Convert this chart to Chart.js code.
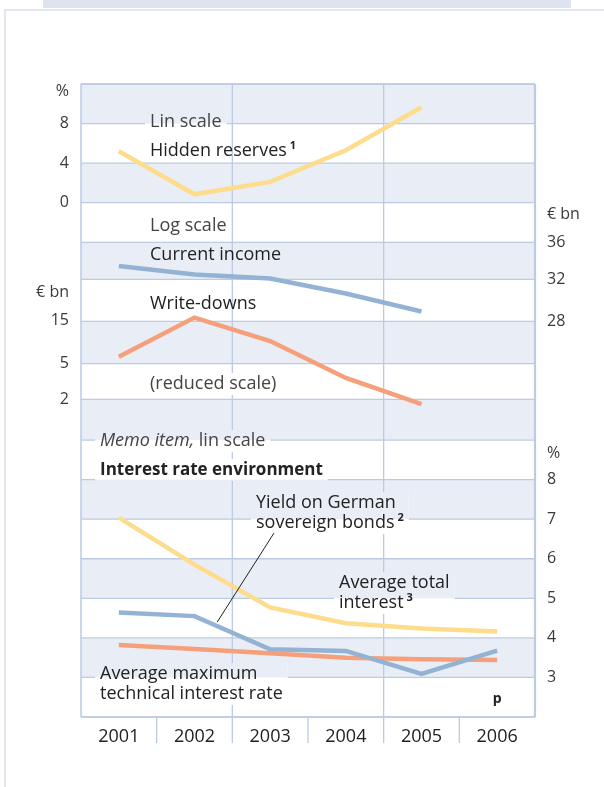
<!DOCTYPE html>
<html>
<head>
<meta charset="utf-8">
<script src="https://cdn.jsdelivr.net/npm/chart.js@4"></script>
<style>
  html, body { margin: 0; padding: 0; background: #fff; }
  #wrap { position: relative; width: 604px; height: 787px; overflow: hidden; }
  .topband { position: absolute; left: 43px; top: 0; width: 528px; height: 8px; background: #dde4ef; }
  .frame { position: absolute; left: 4px; top: 9px; width: 640px; height: 800px; border-left: 2px solid #e1e7f0; border-top: 2px solid #e1e7f0; }
  canvas { position: absolute; left: 0; top: 0; }
</style>
</head>
<body>
<div id="wrap">
  <div class="topband"></div>
  <div class="frame"></div>
  <canvas id="chart" width="604" height="787"></canvas>
</div>
<script>
const years = ["2001", "2002", "2003", "2004", "2005", "2006"];

// upper panel, % (lin scale)
const hiddenReserves = [5.2, 0.85, 2.1, 5.3, 9.65, null];
// middle panel, EUR bn (log scale)
const currentIncome = [33.4, 32.5, 32.1, 30.6, 28.9, null];
const writeDowns = [5.95, 16.2, 8.9, 3.46, 1.78, null];
// lower panel, % (memo item)
const avgTotalInterest = [7.04, 5.85, 4.77, 4.37, 4.24, 4.16];
const bundYield = [4.64, 4.55, 3.71, 3.67, 3.09, 3.68];
const maxTechRate = [3.82, 3.72, 3.61, 3.5, 3.46, 3.44];

const reserveTicks = [8, 4, 0];
const incomeTicks = [36, 32, 28];
const writeDownTicks = [15, 5, 2];
const rateTicks = [8, 7, 6, 5, 4, 3];

const YELLOW = "#fddc8c";
const BLUE = "#93b2d4";
const ORANGE = "#f5a07a";
const BAND = "#e9eef6";
const GRID = "#bccbe2";
const INK = "#222";
const FONT = '"Open Sans", "Noto Sans", sans-serif';

const REG = "18px " + FONT;
const MED = "500 18px " + FONT;
const BOLD = "bold 17px " + FONT;
const ITAL = "italic 18px " + FONT;
const SUP = "bold 11px " + FONT;

// annotation texts: each line is a list of [text, font] runs
const notes = [
  { x: 150, y: 122, lines: [[["Lin scale", REG]]], color: "#444", knock: true },
  { x: 150, y: 151, lines: [[["Hidden reserves", MED], ["1", SUP]]] },
  { x: 150, y: 226, lines: [[["Log scale", REG]]], color: "#444" },
  { x: 150, y: 255, lines: [[["Current income", MED]]] },
  { x: 150, y: 304, lines: [[["Write-downs", MED]]] },
  { x: 150, y: 384, lines: [[["(reduced scale)", REG]]], color: "#444", knock: true },
  { x: 100, y: 441, lines: [[["Memo item,", ITAL], [" lin scale", REG]]], color: "#444", knock: true },
  { x: 100, y: 470, lines: [[["Interest rate environment", BOLD]]], knock: true },
  { x: 256, y: 503, lines: [[["Yield on German", REG]], [["sovereign bonds", REG], ["2", SUP]]], knock: true },
  { x: 339, y: 583, lines: [[["Average total", REG]], [["interest", REG], ["3", SUP]]], knock: true },
  { x: 100, y: 674, lines: [[["Average maximum", REG]], [["technical interest rate", REG]]], knock: true },
];
const LINE_H = 20;

function lineWidth(ctx, runs) {
  let w = 0;
  runs.forEach(([t, f]) => { ctx.font = f; w += ctx.measureText(t).width + (f === SUP ? 3 : 0); });
  return w;
}

function noteBox(ctx, n) {
  const w = Math.max(...n.lines.map((l) => lineWidth(ctx, l)));
  return { x: n.x - 5, y: n.y - 11, w: w + 10, h: (n.lines.length - 1) * LINE_H + 22 };
}

function drawNote(ctx, n) {
  ctx.textBaseline = "middle";
  ctx.textAlign = "left";
  n.lines.forEach((runs, i) => {
    let x = n.x;
    const y = n.y + i * LINE_H;
    runs.forEach(([t, f]) => {
      ctx.font = f;
      ctx.fillStyle = n.color || INK;
      if (f === SUP) {
        x += 3;
        ctx.fillText(t, x, y - 5);
      } else {
        ctx.fillText(t, x, y);
      }
      x += ctx.measureText(t).width;
    });
  });
}

function gridRows(chart) {
  const s = chart.scales;
  const a = chart.chartArea;
  const rows = [a.top];
  reserveTicks.forEach((v) => rows.push(s.yHR.getPixelForValue(v)));
  incomeTicks.forEach((v) => rows.push(s.yCI.getPixelForValue(v)));
  writeDownTicks.slice(1).forEach((v) => rows.push(s.yWD.getPixelForValue(v)));
  rows.push(s.yIR.getPixelForValue(9));
  rateTicks.forEach((v) => rows.push(s.yIR.getPixelForValue(v)));
  rows.push(a.bottom);
  return rows;
}

function boundary(chart, i) {
  const x = chart.scales.x;
  return (x.getPixelForValue(i) + x.getPixelForValue(i + 1)) / 2;
}

const decor = {
  id: "decor",
  beforeDatasetsDraw(chart) {
    const { ctx, chartArea: a } = chart;
    const rows = gridRows(chart);
    const paintBands = () => {
      ctx.fillStyle = "#fff";
      ctx.fillRect(a.left, a.top, a.width, a.height);
      ctx.fillStyle = BAND;
      for (let i = 0; i + 1 < rows.length; i += 2) {
        ctx.fillRect(a.left, rows[i], a.width, rows[i + 1] - rows[i]);
      }
    };
    ctx.save();
    paintBands();
    ctx.strokeStyle = GRID;
    ctx.lineWidth = 1.3;
    rows.forEach((y) => {
      ctx.beginPath();
      ctx.moveTo(a.left, y);
      ctx.lineTo(a.right, y);
      ctx.stroke();
    });
    [1, 3].forEach((i) => {
      const x = boundary(chart, i);
      ctx.beginPath();
      ctx.moveTo(x, a.top);
      ctx.lineTo(x, a.bottom);
      ctx.stroke();
    });
    // gaps in the grid behind annotations
    notes.filter((n) => n.knock).forEach((n) => {
      const r = noteBox(ctx, n);
      ctx.save();
      ctx.beginPath();
      ctx.rect(r.x, r.y, r.w, r.h);
      ctx.clip();
      paintBands();
      ctx.restore();
    });
    // frame of the plot
    ctx.strokeStyle = GRID;
    ctx.lineWidth = 1.5;
    ctx.beginPath();
    ctx.moveTo(a.left, a.top);
    ctx.lineTo(a.left, a.bottom);
    ctx.moveTo(a.left, a.top);
    ctx.lineTo(a.right, a.top);
    ctx.moveTo(a.left, a.bottom);
    ctx.lineTo(a.right, a.bottom);
    ctx.stroke();
    ctx.lineWidth = 2.2;
    ctx.beginPath();
    ctx.moveTo(a.right, a.top);
    ctx.lineTo(a.right, a.bottom);
    ctx.stroke();
    ctx.restore();
  },
  afterDatasetsDraw(chart) {
    const { ctx, chartArea: a, scales: s } = chart;
    ctx.save();
    notes.forEach((n) => drawNote(ctx, n));

    // leader line from the bond yield label to its line
    const t = 0.3;
    const lx = s.x.getPixelForValue(1) + t * (s.x.getPixelForValue(2) - s.x.getPixelForValue(1));
    const ly = s.yIR.getPixelForValue(bundYield[1] + t * (bundYield[2] - bundYield[1]));
    ctx.strokeStyle = "#222";
    ctx.lineWidth = 1;
    ctx.beginPath();
    ctx.moveTo(274, 533);
    ctx.lineTo(lx, ly - 4);
    ctx.stroke();

    // tick labels
    ctx.fillStyle = "#3a3a3a";
    ctx.font = "16px " + FONT;
    ctx.textBaseline = "middle";
    ctx.textAlign = "right";
    const lx0 = a.left - 12;
    ctx.fillText("%", lx0, a.top + 7);
    reserveTicks.forEach((v) => ctx.fillText(String(v), lx0, s.yHR.getPixelForValue(v)));
    ctx.fillText("€ bn", lx0, s.yWD.getPixelForValue(writeDownTicks[0]) - 28);
    writeDownTicks.forEach((v) => ctx.fillText(String(v), lx0, s.yWD.getPixelForValue(v)));
    ctx.textAlign = "left";
    const rx0 = a.right + 12;
    ctx.fillText("€ bn", rx0, s.yCI.getPixelForValue(incomeTicks[0]) - 28);
    incomeTicks.forEach((v) => ctx.fillText(String(v), rx0, s.yCI.getPixelForValue(v)));
    ctx.fillText("%", rx0, s.yIR.getPixelForValue(rateTicks[0]) - 26);
    rateTicks.forEach((v) => ctx.fillText(String(v), rx0, s.yIR.getPixelForValue(v)));

    // year labels and separators below the plot
    ctx.strokeStyle = GRID;
    ctx.lineWidth = 1.3;
    for (let i = 0; i < years.length - 1; i++) {
      const x = boundary(chart, i);
      ctx.beginPath();
      ctx.moveTo(x, a.bottom);
      ctx.lineTo(x, a.bottom + 26);
      ctx.stroke();
    }
    ctx.fillStyle = INK;
    ctx.font = "18px " + FONT;
    ctx.textAlign = "center";
    years.forEach((y, i) => ctx.fillText(y, s.x.getPixelForValue(i), a.bottom + 20));

    ctx.font = "bold 14px " + FONT;
    ctx.fillText("p", s.x.getPixelForValue(5), a.bottom - 18);
    ctx.restore();
  },
};

function series(data, color, axis, width) {
  return {
    data: data,
    yAxisID: axis,
    borderColor: color,
    borderWidth: width || 4.5,
    pointRadius: 0,
    tension: 0,
    fill: false,
    spanGaps: false,
  };
}

new Chart(document.getElementById("chart"), {
  type: "line",
  data: {
    labels: years,
    datasets: [
      series(bundYield, BLUE, "yIR"),
      series(maxTechRate, ORANGE, "yIR"),
      series(avgTotalInterest, YELLOW, "yIR"),
      series(currentIncome, BLUE, "yCI"),
      series(writeDowns, ORANGE, "yWD"),
      series(hiddenReserves, YELLOW, "yHR"),
    ],
  },
  options: {
    responsive: false,
    animation: false,
    devicePixelRatio: 1,
    layout: { padding: { left: 81, right: 69, top: 84, bottom: 70 } },
    plugins: { legend: { display: false }, tooltip: { enabled: false } },
    scales: {
      x: { type: "category", offset: true, display: false },
      yHR: { type: "linear", min: -52, max: 12, display: false },
      yCI: { type: "logarithmic", min: 7.97, max: 59.53, display: false },
      yWD: { type: "logarithmic", min: 0.0006342, max: 6316, display: false },
      yIR: { type: "linear", min: 2, max: 18, display: false },
    },
  },
  plugins: [decor],
});
</script>
</body>
</html>
